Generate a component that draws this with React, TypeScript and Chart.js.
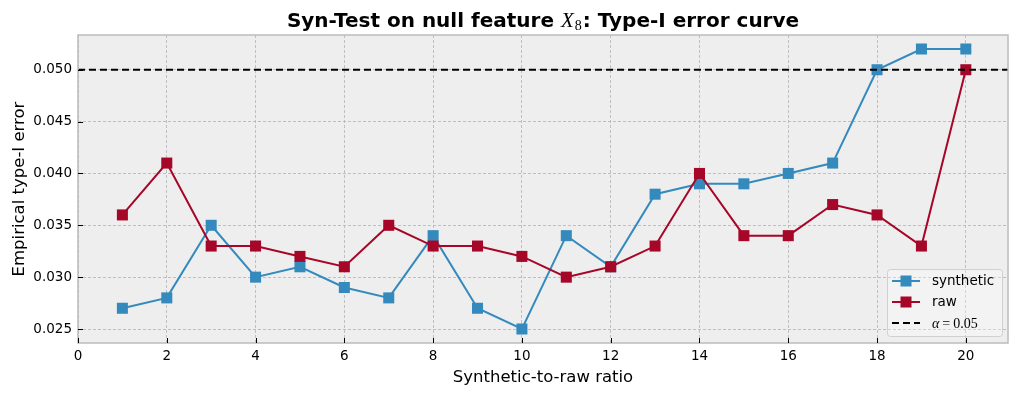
import React, { useEffect, useRef } from "react";
import { Chart, registerables } from "chart.js";

Chart.register(...registerables);

const ratios = [1, 2, 3, 4, 5, 6, 7, 8, 9, 10, 11, 12, 13, 14, 15, 16, 17, 18, 19, 20];
const syntheticErr = [0.027, 0.028, 0.035, 0.030, 0.031, 0.029, 0.028, 0.034, 0.027, 0.025, 0.034, 0.031, 0.038, 0.039, 0.039, 0.040, 0.041, 0.050, 0.052, 0.052];
const rawErr = [0.036, 0.041, 0.033, 0.033, 0.032, 0.031, 0.035, 0.033, 0.033, 0.032, 0.030, 0.031, 0.033, 0.040, 0.034, 0.034, 0.037, 0.036, 0.033, 0.050];
const alphaLevel = 0.05;
const xTicks = [0, 2, 4, 6, 8, 10, 12, 14, 16, 18, 20];
const yTicks = [0.025, 0.03, 0.035, 0.04, 0.045, 0.05];

const BLUE = "#348ABD";
const RED = "#A60628";
const SANS = "'DejaVu Sans', sans-serif";
const SERIF = "'Liberation Serif', 'DejaVu Serif', serif";

const W = 1017;
const H = 395;
const PLOT = { left: 78, right: 1008, top: 35, bottom: 343 };

const decor = {
  id: "decor",
  beforeDraw(chart: any) {
    const { ctx, chartArea: a } = chart;
    ctx.save();
    ctx.fillStyle = "#ffffff";
    ctx.fillRect(0, 0, chart.width, chart.height);
    ctx.fillStyle = "#eeeeee";
    ctx.fillRect(a.left, a.top, a.right - a.left, a.bottom - a.top);
    ctx.restore();
  },
  afterDraw(chart: any) {
    const { ctx, chartArea: a, scales } = chart;
    ctx.save();
    // spines
    ctx.strokeStyle = "#bcbcbc";
    ctx.lineWidth = 1.5;
    ctx.strokeRect(a.left, a.top, a.right - a.left, a.bottom - a.top);
    // inward ticks
    ctx.strokeStyle = "#000000";
    ctx.lineWidth = 1;
    ctx.beginPath();
    xTicks.forEach((t) => {
      const x = Math.round(scales.x.getPixelForValue(t)) + 0.5;
      ctx.moveTo(x, a.bottom);
      ctx.lineTo(x, a.bottom - 5);
    });
    yTicks.forEach((t) => {
      const y = Math.round(scales.y.getPixelForValue(t)) + 0.5;
      ctx.moveTo(a.left, y);
      ctx.lineTo(a.left + 5, y);
    });
    ctx.stroke();

    // title
    const boldFont = `bold 20px ${SANS}`;
    const part1 = "Syn-Test on null feature ";
    const part3 = ": Type-I error curve";
    ctx.font = boldFont;
    const w1 = ctx.measureText(part1).width;
    const w3 = ctx.measureText(part3).width;
    ctx.font = `italic 21px ${SERIF}`;
    const wX = ctx.measureText("X").width + 1;
    ctx.font = `14px ${SERIF}`;
    const w8 = ctx.measureText("8").width + 1;
    const total = w1 + wX + w8 + w3;
    let tx = (a.left + a.right) / 2 - total / 2;
    const ty = 27;
    ctx.fillStyle = "#000000";
    ctx.textBaseline = "alphabetic";
    ctx.textAlign = "left";
    ctx.font = boldFont;
    ctx.fillText(part1, tx, ty);
    tx += w1;
    ctx.font = `italic 21px ${SERIF}`;
    ctx.fillText("X", tx, ty);
    tx += wX;
    ctx.font = `14px ${SERIF}`;
    ctx.fillText("8", tx, ty + 3);
    tx += w8;
    ctx.font = boldFont;
    ctx.fillText(part3, tx, ty);

    // axis labels
    ctx.font = `16.5px ${SANS}`;
    ctx.textAlign = "center";
    ctx.fillText("Synthetic-to-raw ratio", (a.left + a.right) / 2, 382);
    ctx.save();
    ctx.translate(24, (a.top + a.bottom) / 2);
    ctx.rotate(-Math.PI / 2);
    ctx.fillText("Empirical type-I error", 0, 0);
    ctx.restore();

    // legend
    const lx = 887, ly = 269, lw = 115, lh = 67;
    ctx.fillStyle = "rgba(255,255,255,0.3)";
    ctx.strokeStyle = "#d0d0d0";
    ctx.lineWidth = 1;
    ctx.beginPath();
    (ctx as any).roundRect(lx + 0.5, ly + 0.5, lw, lh, 3);
    ctx.fill();
    ctx.stroke();
    const rows = [
      { y: 281, color: BLUE, marker: true },
      { y: 302, color: RED, marker: true },
      { y: 323, color: "#000000", marker: false },
    ];
    rows.forEach((r) => {
      ctx.strokeStyle = r.color;
      ctx.lineWidth = 2;
      if (!r.marker) ctx.setLineDash([7, 4]);
      ctx.beginPath();
      ctx.moveTo(892, r.y);
      ctx.lineTo(920, r.y);
      ctx.stroke();
      ctx.setLineDash([]);
      if (r.marker) {
        ctx.fillStyle = r.color;
        ctx.fillRect(906 - 5.5, r.y - 5.5, 11, 11);
      }
    });
    ctx.fillStyle = "#000000";
    ctx.textAlign = "left";
    ctx.textBaseline = "middle";
    ctx.font = `13.5px ${SANS}`;
    ctx.fillText("synthetic", 932, 281);
    ctx.fillText("raw", 932, 302);
    ctx.textBaseline = "alphabetic";
    let ax = 932;
    ctx.font = `italic 14px ${SERIF}`;
    ctx.fillText("α", ax, 328);
    ax += ctx.measureText("α").width + 3;
    ctx.font = `14px ${SERIF}`;
    ctx.fillText("=", ax, 328);
    ax += ctx.measureText("=").width + 3;
    ctx.fillText("0.05", ax, 328);
    ctx.restore();
  },
};

export default function App() {
  const ref = useRef<HTMLCanvasElement>(null);
  useEffect(() => {
    if (!ref.current) return;
    const chart = new Chart(ref.current, {
      type: "line",
      data: {
        datasets: [
          {
            label: "synthetic",
            data: ratios.map((x, i) => ({ x, y: syntheticErr[i] })),
            borderColor: BLUE,
            backgroundColor: BLUE,
            borderWidth: 2,
            pointStyle: "rect",
            pointRadius: 7.8,
            pointBorderWidth: 0,
            pointBackgroundColor: BLUE,
            pointBorderColor: BLUE,
            order: 2,
          },
          {
            label: "raw",
            data: ratios.map((x, i) => ({ x, y: rawErr[i] })),
            borderColor: RED,
            backgroundColor: RED,
            borderWidth: 2,
            pointStyle: "rect",
            pointRadius: 7.8,
            pointBorderWidth: 0,
            pointBackgroundColor: RED,
            pointBorderColor: RED,
            order: 1,
          },
          {
            label: "α = 0.05",
            data: [
              { x: 0, y: alphaLevel },
              { x: 21, y: alphaLevel },
            ],
            borderColor: "#000000",
            borderWidth: 2,
            borderDash: [7, 4],
            pointRadius: 0,
            order: 0,
          },
        ],
      },
      options: {
        responsive: false,
        animation: false,
        layout: { padding: { left: 0, right: W - PLOT.right, top: PLOT.top, bottom: 0 } },
        plugins: {
          legend: { display: false },
          title: { display: false },
          tooltip: { enabled: false },
        },
        scales: {
          x: {
            type: "linear",
            min: 0,
            max: 20.95,
            afterBuildTicks: (s: any) => {
              s.ticks = xTicks.map((v) => ({ value: v }));
            },
            afterFit: (s: any) => {
              s.height = H - PLOT.bottom;
            },
            grid: {
              color: "#b2b2b2",
              lineWidth: 0.8,
              drawTicks: false,
            },
            border: { display: false, dash: [3, 2] },
            ticks: {
              color: "#000000",
              padding: 5,
              maxRotation: 0,
              autoSkip: false,
              font: { family: SANS, size: 13.5 },
            },
          },
          y: {
            type: "linear",
            min: 0.02365,
            max: 0.05335,
            afterBuildTicks: (s: any) => {
              s.ticks = yTicks.map((v) => ({ value: v }));
            },
            afterFit: (s: any) => {
              s.width = PLOT.left;
            },
            grid: {
              color: "#b2b2b2",
              lineWidth: 0.8,
              drawTicks: false,
            },
            border: { display: false, dash: [3, 2] },
            ticks: {
              color: "#000000",
              padding: 6,
              autoSkip: false,
              font: { family: SANS, size: 13.5 },
              callback: (v: any) => Number(v).toFixed(3),
            },
          },
        },
      },
      plugins: [decor],
    } as any);
    return () => chart.destroy();
  }, []);
  return (
    <div style={{ position: "fixed", left: 0, top: 0, width: W, height: H, background: "#fff" }}>
      <canvas ref={ref} width={W} height={H} style={{ display: "block" }} />
    </div>
  );
}
